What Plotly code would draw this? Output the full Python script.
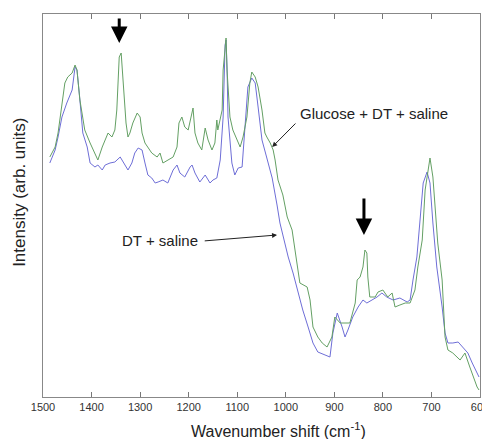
import plotly.graph_objects as go

# Glucose + DT + saline (green) : wavenumber (cm^-1), intensity (arb. units)
green_wn = [1486, 1475, 1469, 1461, 1455, 1449, 1440, 1434, 1430, 1424, 1414, 1403, 1393, 1387,
            1378, 1372, 1366, 1358, 1352, 1348, 1343, 1339, 1335, 1329, 1325, 1321, 1315, 1306,
            1300, 1296, 1290, 1284, 1276, 1265, 1259, 1253, 1243, 1232, 1224, 1220, 1214, 1208,
            1201, 1193, 1191, 1187, 1181, 1173, 1166, 1160, 1152, 1146, 1142, 1140, 1131, 1129,
            1123, 1121, 1115, 1109, 1100, 1094, 1088, 1080, 1074, 1070, 1063, 1057, 1049, 1043,
            1039, 1032, 1026, 1022, 1016, 1006, 997, 987, 981, 971, 956, 950, 944, 934, 925, 915,
            905, 899, 888, 878, 868, 857, 853, 847, 841, 837, 833, 831, 827, 816, 810, 800, 790,
            781, 775, 765, 754, 744, 734, 728, 719, 713, 703, 697, 687, 678, 672, 666, 656, 641,
            631, 621, 614, 606, 602]
green_int = [240, 250, 264, 294, 314, 320, 324, 332, 327, 297, 267, 254, 244, 237,
             250, 257, 264, 260, 267, 287, 340, 344, 314, 274, 260, 264, 274, 284,
             280, 264, 254, 250, 244, 240, 244, 234, 237, 240, 250, 274, 280, 270,
             267, 287, 289, 264, 254, 247, 269, 257, 247, 254, 277, 267, 287, 327,
             359, 327, 280, 267, 257, 250, 260, 280, 314, 325, 320, 310, 287, 264,
             260, 254, 247, 237, 217, 202, 180, 167, 147, 114, 110, 97, 70, 60, 54, 50,
             60, 80, 74, 74, 74, 94, 117, 120, 130, 147, 144, 120, 100, 100, 105, 107, 100,
             104, 90, 92, 94, 94, 107, 130, 157, 207, 239, 220, 154, 117, 60, 47, 44, 37,
             44, 30, 20, 10, 7]

# DT + saline (blue)
blue_wn = [1486, 1475, 1469, 1461, 1451, 1440, 1434, 1430, 1424, 1418, 1409, 1403, 1393, 1387,
           1378, 1372, 1362, 1352, 1341, 1329, 1325, 1317, 1311, 1304, 1296, 1290, 1284, 1276,
           1269, 1263, 1253, 1243, 1232, 1224, 1218, 1208, 1197, 1193, 1187, 1177, 1166, 1156,
           1150, 1142, 1135, 1129, 1125, 1123, 1121, 1119, 1111, 1105, 1098, 1090, 1084, 1078,
           1070, 1063, 1057, 1049, 1039, 1028, 1018, 1012, 1002, 995, 985, 975, 965, 954, 944,
           934, 919, 909, 903, 894, 884, 878, 872, 862, 851, 841, 833, 822, 812, 802, 792, 779,
           765, 750, 744, 738, 730, 724, 717, 709, 703, 697, 689, 678, 672, 666, 656, 645, 635,
           625, 616, 606, 602]
blue_int = [234, 247, 260, 280, 294, 307, 330, 327, 297, 264, 250, 234, 230, 232,
            227, 232, 234, 235, 240, 231, 227, 234, 244, 249, 247, 234, 222, 219,
            214, 215, 217, 214, 227, 232, 224, 220, 230, 232, 224, 215, 222, 214,
            217, 219, 237, 280, 352, 357, 330, 280, 234, 222, 229, 230, 270, 310,
            319, 314, 290, 257, 239, 219, 192, 174, 154, 140, 124, 104, 87, 70, 54,
            45, 42, 40, 64, 84, 70, 60, 67, 80, 90, 97, 94, 97, 100, 104, 100, 97,
            99, 95, 97, 117, 140, 174, 214, 225, 214, 174, 130, 90, 64, 54, 54, 55, 49,
            44, 34, 24, 20]

x_ticks = [1500, 1400, 1300, 1200, 1100, 1000, 900, 800, 700, 600]

FONT = "Arial, Liberation Sans, sans-serif"

fig = go.Figure()
fig.add_trace(go.Scatter(x=blue_wn, y=blue_int, mode="lines", name="DT + saline",
                         line=dict(color="rgb(110,110,215)", width=1)))
fig.add_trace(go.Scatter(x=green_wn, y=green_int, mode="lines", name="Glucose + DT + saline",
                         line=dict(color="rgb(100,160,100)", width=1)))

annos = [
    # thick down arrows
    dict(x=1343, y=354, ax=0, ay=-26, text="", showarrow=True, arrowhead=2,
         arrowwidth=3, arrowsize=1.1, arrowcolor="black"),
    dict(x=839, y=162, ax=0, ay=-38, text="", showarrow=True, arrowhead=2,
         arrowwidth=3, arrowsize=1.1, arrowcolor="black"),
    # label arrows
    dict(x=1028, y=250, ax=977, ay=275, axref="x", ayref="y", text="", showarrow=True,
         arrowhead=2, arrowwidth=1, arrowsize=1, arrowcolor="#222"),
    dict(x=1018, y=162, ax=1170, ay=156, axref="x", ayref="y", text="", showarrow=True,
         arrowhead=2, arrowwidth=1, arrowsize=1, arrowcolor="#222"),
    dict(x=818, y=284, text="Glucose + DT + saline", showarrow=False,
         font=dict(family=FONT, size=15, color="#222")),
    dict(x=1259, y=157, text="DT + saline", showarrow=False,
         font=dict(family=FONT, size=15, color="#222")),
    # axis titles
    dict(xref="paper", yref="paper", x=0.538, y=-0.086, xanchor="center", yanchor="middle",
         text="Wavenumber shift (cm<sup>-1</sup>)", showarrow=False,
         font=dict(family=FONT, size=16, color="#222")),
    dict(xref="paper", yref="paper", x=-0.0526, y=0.533, xanchor="center", yanchor="middle",
         text="Intensity (arb. units)", textangle=-90, showarrow=False,
         font=dict(family=FONT, size=17, color="#222")),
]

# page body has an 8px default margin, so the figure is sized to fit the 490x439 window
fig.update_layout(
    width=482, height=431,
    margin=dict(l=35, r=10, t=6, b=42),
    paper_bgcolor="white", plot_bgcolor="white",
    showlegend=False,
    annotations=annos,
    font=dict(family=FONT, color="#222"),
)
fig.update_xaxes(range=[1500, 600], tickvals=x_ticks, ticks="inside", ticklen=5,
                 tickcolor="#777", showline=True, linecolor="#888", linewidth=1,
                 mirror="ticks", showgrid=False, zeroline=False, automargin=False,
                 tickfont=dict(family=FONT, size=11, color="#333"))
fig.update_yaxes(range=[0, 383], showticklabels=False, ticks="", showline=True,
                 linecolor="#888", linewidth=1, mirror=True, showgrid=False, zeroline=False,
                 automargin=False)

fig.write_html("out.html")
